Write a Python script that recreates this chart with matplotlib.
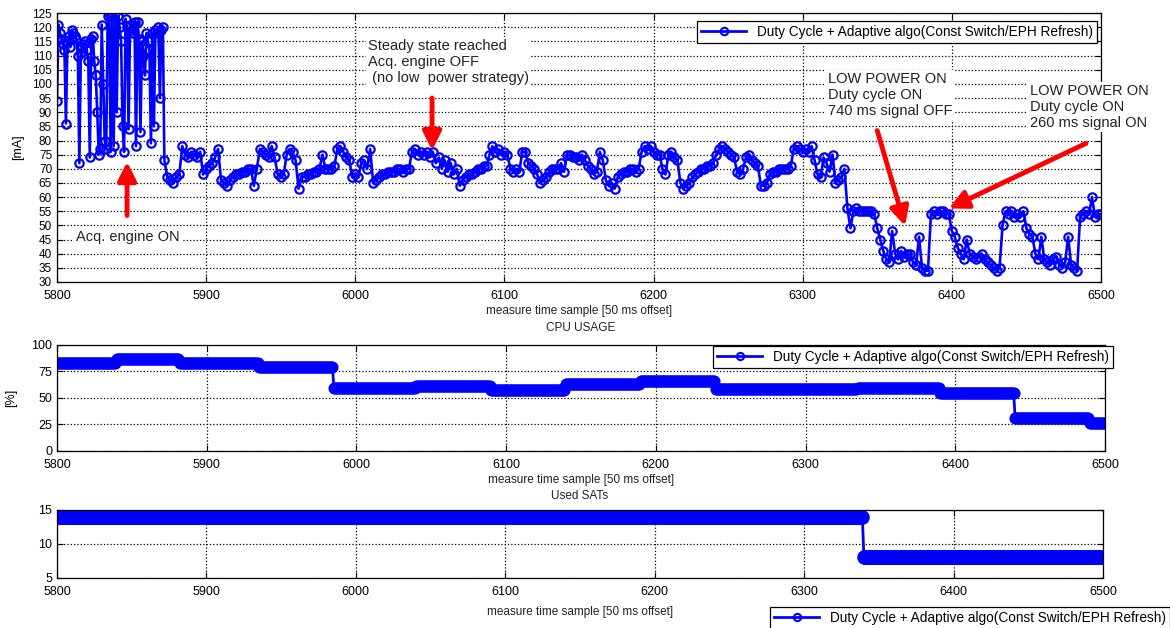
import numpy as np
import matplotlib
matplotlib.use('Agg')
import matplotlib.pyplot as plt

plt.rcParams['font.family'] = ['Liberation Sans', 'DejaVu Sans']
plt.rcParams['xtick.direction'] = 'in'
plt.rcParams['ytick.direction'] = 'in'

legend_text = 'Duty Cycle + Adaptive algo(Const Switch/EPH Refresh)'
x_label = 'measure time sample [50 ms offset]'

# current draw, one value per sample while the acquisition engine runs (5800..5872)
acq_current = [94, 121, 118, 116, 114, 112, 86, 115, 117, 113,
               119, 118, 117, 116, 110, 72, 111, 113, 114, 115,
               112, 108, 74, 116, 117, 108, 103, 90, 75, 77,
               121, 100, 80, 77, 124, 125, 76, 124, 78, 125,
               90, 124, 120, 115, 85, 76, 123, 120, 84, 121,
               119, 118, 122, 78, 122, 116, 83, 115, 110, 103,
               118, 115, 112, 79, 118, 85, 119, 118, 120, 95,
               119, 120, 73]
acq_start = 5800

# current draw afterwards, every second sample (5874..6500)
steady_current = [67, 66, 65, 67, 68, 78, 75, 74, 76, 75,
                  74, 76, 68, 70, 71, 72, 74, 77, 66, 65,
                  64, 66, 67, 68, 68, 69, 69, 70, 70, 64,
                  70, 77, 76, 75, 74, 78, 74, 68, 67, 68,
                  75, 77, 76, 73, 63, 67, 67, 68, 68, 69,
                  69, 70, 75, 70, 70, 70, 71, 77, 78, 76,
                  74, 73, 67, 68, 67, 72, 73, 70, 77, 65,
                  66, 67, 68, 68, 69, 69, 69, 70, 70, 69,
                  70, 70, 76, 77, 75, 76, 75, 76, 74, 76,
                  72, 74, 70, 73, 69, 72, 68, 70, 64, 66,
                  67, 68, 68, 69, 70, 70, 71, 71, 75, 78,
                  76, 77, 75, 76, 75, 70, 69, 70, 69, 76,
                  76, 72, 71, 70, 68, 65, 66, 67, 69, 70,
                  70, 70, 72, 69, 75, 75, 74, 74, 73, 75,
                  73, 71, 70, 68, 69, 76, 73, 66, 64, 65,
                  63, 67, 68, 69, 69, 70, 70, 69, 70, 76,
                  78, 77, 78, 76, 75, 75, 70, 68, 75, 76,
                  74, 73, 65, 63, 64, 65, 67, 68, 69, 70,
                  70, 71, 71, 72, 75, 77, 78, 77, 76, 75,
                  74, 69, 68, 70, 74, 75, 73, 72, 71, 64,
                  64, 65, 68, 69, 69, 70, 70, 70, 70, 71,
                  77, 78, 77, 76, 77, 76, 78, 73, 68, 67,
                  74, 72, 69, 75, 65, 66, 67, 70, 56, 49,
                  55, 56, 55, 55, 55, 55, 55, 54, 49, 45,
                  41, 38, 37, 48, 40, 38, 41, 39, 40, 40,
                  37, 36, 46, 35, 34, 34, 54, 55, 54, 55,
                  55, 54, 54, 48, 46, 42, 40, 38, 45, 40,
                  39, 38, 39, 40, 38, 37, 36, 35, 34, 35,
                  50, 55, 54, 55, 53, 54, 53, 55, 49, 47,
                  46, 40, 38, 46, 38, 37, 36, 38, 39, 36,
                  35, 37, 46, 36, 35, 34, 53, 54, 55, 54,
                  60, 53, 54, 54]
steady_start = 5874

# CPU usage steps: start sample and level [%]
cpu_step_start = [5800, 5840, 5882, 5935, 5985, 6040, 6090, 6140, 6190, 6240, 6335, 6390, 6440, 6490]
cpu_step_level = [83, 87, 83, 79, 59, 61, 57, 63, 66, 58, 59, 55, 31, 26]

# used satellites steps
sat_step_start = [5800, 6340]
sat_step_level = [14, 8]
x_end = 6500

x_acq = np.arange(acq_start, acq_start + len(acq_current))
x_steady = np.arange(steady_start, steady_start + 2 * len(steady_current), 2)
cur_x = np.concatenate([x_acq, x_steady])
cur_y = np.concatenate([acq_current, steady_current])


def expand_steps(starts, levels, end):
    bounds = list(starts) + [end + 1]
    xs, ys = [], []
    for i, lv in enumerate(levels):
        seg = np.arange(bounds[i], bounds[i + 1])
        xs.append(seg)
        ys.append(np.full(len(seg), lv))
    return np.concatenate(xs), np.concatenate(ys)


cpu_x, cpu_y = expand_steps(cpu_step_start, cpu_step_level, x_end)
sat_x, sat_y = expand_steps(sat_step_start, sat_step_level, x_end)

fig = plt.figure(figsize=(11.7, 6.28), dpi=100)
ax1 = fig.add_axes([0.0487, 0.551, 0.8923, 0.428])
ax2 = fig.add_axes([0.0487, 0.282, 0.8957, 0.169])
ax3 = fig.add_axes([0.0487, 0.080, 0.8940, 0.108])


def style(ax):
    ax.grid(True, linestyle=':', color='black', linewidth=0.9)
    ax.tick_params(labelsize=9, top=True, right=True, length=4, width=0.8)
    ax.tick_params(axis='x', pad=6)
    ax.set_xlim(5800, 6500)
    ax.set_xticks(range(5800, 6501, 100))
    for s in ax.spines.values():
        s.set_linewidth(0.9)


def add_legend(ax, x, y, size=9.8, mscale=1.0):
    leg = ax.legend(loc='upper left', bbox_to_anchor=(x / 1170, 1 - y / 628),
                    bbox_transform=fig.transFigure, fontsize=size, fancybox=False,
                    framealpha=1, edgecolor='black', borderpad=0.3, handlelength=3.3,
                    borderaxespad=0, markerscale=mscale)
    leg.get_frame().set_linewidth(0.9)
    for h in leg.get_lines():
        h.set_linewidth(2)
        h.set_markeredgewidth(1.5)


# top: current
ax1.plot(cur_x, cur_y, '-o', color='blue', lw=1.9, ms=6, mfc='none', mew=1.6,
         label=legend_text)
style(ax1)
ax1.set_ylim(30, 125)
ax1.set_yticks(range(30, 126, 5))
ax1.tick_params(axis='y', labelsize=8.5)
ax1.set_ylabel('[mA]', fontsize=9, labelpad=6)
ax1.set_xlabel(x_label, fontsize=8.5, labelpad=2, color='#222222')
add_legend(ax1, 697, 21, mscale=0.9)

arrow = dict(arrowstyle='-|>', color='red', lw=3.5, mutation_scale=28, shrinkA=0, shrinkB=0)
txt = dict(fontsize=10.5, color='#222222', va='top', ha='left', linespacing=1.2,
           bbox=dict(facecolor='white', edgecolor='none', pad=1.5))
ax1.annotate('', xy=(5847, 72.5), xytext=(5847, 53.5), arrowprops=arrow)
ax1.text(5813, 48.5, 'Acq. engine ON', **txt)
ax1.annotate('', xy=(6051.5, 76.5), xytext=(6051.5, 95), arrowprops=arrow)
ax1.text(6008.5, 116, 'Steady state reached\nAcq. engine OFF\n (no low  power strategy)', **txt)
ax1.annotate('', xy=(6368.7, 49.8), xytext=(6350, 83.5), arrowprops=arrow)
ax1.text(6317, 104.2, 'LOW POWER ON\nDuty cycle ON\n740 ms signal OFF', **txt)
ax1.annotate('', xy=(6398, 56), xytext=(6490, 79), arrowprops=arrow)
ax1.text(6452.5, 100, 'LOW POWER ON\nDuty cycle ON\n260 ms signal ON', **txt)

# middle: cpu usage
ax2.plot(cpu_x, cpu_y, '-o', color='blue', lw=2, ms=6.5, mfc='none', mew=2.2,
         label=legend_text)
style(ax2)
ax2.set_ylim(0, 100)
ax2.set_yticks([0, 25, 50, 75, 100])
ax2.set_ylabel('[%]', fontsize=9, labelpad=10)
ax2.set_xlabel(x_label, fontsize=8.5, labelpad=2, color='#222222')
ax2.set_title('CPU USAGE', fontsize=8.5, pad=10, color='#222222')
add_legend(ax2, 713, 346, mscale=0.8)

# bottom: used satellites
ax3.plot(sat_x, sat_y, '-o', color='blue', lw=2, ms=8, mfc='none', mew=2.5,
         label=legend_text)
style(ax3)
ax3.set_ylim(5, 15)
ax3.set_yticks([5, 10, 15])
ax3.set_xlabel(x_label, fontsize=8.5, labelpad=6, color='#222222')
ax3.set_title('Used SATs', fontsize=8.5, pad=8, color='#222222')
add_legend(ax3, 770, 607, mscale=0.65)

fig.savefig('out.png', dpi=100)
